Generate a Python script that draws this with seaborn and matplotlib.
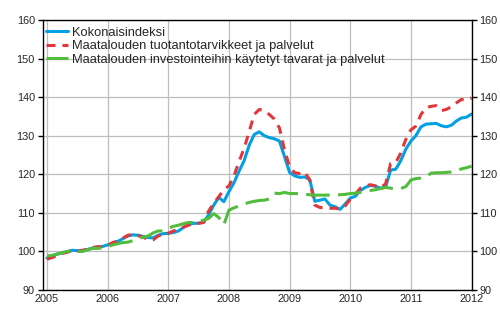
import numpy as np
import pandas as pd
import matplotlib
matplotlib.use("Agg")
import matplotlib.pyplot as plt
import seaborn as sns

# Monthly index series, 2005M01 ... 2012M01 (2005 = 100)
start_year = 2005
year_ticks = [2005, 2006, 2007, 2008, 2009, 2010, 2011, 2012]
y_ticks = [90, 100, 110, 120, 130, 140, 150, 160]

series_names = [
    "Kokonaisindeksi",
    "Maatalouden tuotantotarvikkeet ja palvelut",
    "Maatalouden investointeihin käytetyt tavarat ja palvelut",
]

kokonaisindeksi = [
    98.3, 98.8, 99.3, 99.6, 99.9, 100.3, 100.2, 100.1, 100.5, 100.9, 101.2, 101.3,
    101.7, 102.1, 102.6, 103.3, 104.0, 104.3, 104.2, 103.9, 103.6, 103.5, 104.2, 104.6,
    104.7, 104.9, 105.3, 106.2, 107.0, 107.3, 107.3, 107.6, 109.5, 112.0, 114.0, 112.9,
    115.5, 117.8, 120.8, 123.5, 127.5, 130.3, 131.0, 130.0, 129.5, 129.2, 128.6, 124.6,
    120.5, 119.6, 119.2, 119.3, 118.6, 113.0, 113.3, 113.6, 112.0, 111.6, 110.9, 112.3,
    113.8, 114.3, 115.8, 116.6, 117.1, 116.9, 116.4, 116.7, 121.1, 121.3, 123.5, 126.5,
    128.6, 130.0, 132.3, 133.0, 133.1, 133.2, 132.6, 132.3, 132.7, 133.8, 134.6, 134.8,
    135.6,
]

tuotantotarvikkeet = [
    98.0, 98.4, 99.0, 99.5, 99.8, 100.2, 100.0, 100.3, 100.6, 101.0, 101.2, 101.2,
    101.5, 102.3, 102.7, 103.4, 104.2, 104.4, 104.1, 103.7, 103.1, 103.0, 104.0, 104.5,
    104.7, 105.3, 105.7, 106.3, 106.8, 107.1, 107.3, 107.5, 110.5, 112.5, 114.2, 116.0,
    117.0, 119.6, 123.3, 126.7, 131.0, 135.5, 136.8, 136.5, 135.5, 134.3, 132.0, 126.3,
    122.0, 120.4, 120.2, 120.6, 118.5, 112.0, 111.4, 111.3, 111.2, 111.2, 111.0, 111.8,
    113.5, 114.8, 116.4, 117.0, 117.3, 117.0, 116.5, 117.5, 122.8, 123.0, 125.5, 129.0,
    131.5, 132.5, 135.5, 137.3, 137.6, 137.8, 136.5, 136.8, 137.5, 138.5, 139.4, 139.2,
    139.8,
]

investoinnit = [
    98.8, 99.0, 99.3, 99.7, 100.0, 100.2, 100.0, 100.0, 100.4, 100.8, 100.8, 100.9,
    101.3, 101.7, 102.0, 102.3, 102.4, 102.8, 103.3, 103.7, 104.0, 104.8, 105.3, 105.3,
    106.0, 106.5, 106.8, 107.2, 107.5, 107.5, 107.8, 108.1, 108.6, 109.8, 108.8, 106.9,
    110.7, 111.3, 111.8, 112.3, 112.7, 113.0, 113.2, 113.3, 113.6, 115.1, 115.0, 115.3,
    115.0, 115.0, 115.0, 114.8, 114.7, 114.6, 114.6, 114.6, 114.6, 114.6, 114.7, 114.8,
    115.0, 115.1, 115.3, 115.5, 115.8, 116.0, 116.3, 116.6, 116.4, 116.2, 116.3, 116.8,
    118.5, 118.9, 119.0, 119.3, 120.3, 120.4, 120.4, 120.5, 120.6, 120.8, 121.4, 121.7,
    122.1,
]

colors = ["#00A0E3", "#E2373A", "#52BC3C"]

sns.set_theme(style="white")
plt.rcParams["font.family"] = ["Liberation Sans", "DejaVu Sans"]
plt.rcParams["lines.scale_dashes"] = False

t = start_year + np.arange(len(kokonaisindeksi)) / 12.0
df = pd.DataFrame({
    "t": t,
    series_names[0]: kokonaisindeksi,
    series_names[1]: tuotantotarvikkeet,
    series_names[2]: investoinnit,
})

fig = plt.figure(figsize=(5.0, 3.3), dpi=100)
ax = fig.add_axes([0.085, 0.1212, 0.858, 0.8182])

styles = ["-", (0, (6.5, 5.0)), (0, (17.0, 6.0))]
for name, col, ls in zip(series_names, colors, styles):
    sns.lineplot(data=df, x="t", y=name, ax=ax, color=col, linewidth=2.2,
                 linestyle=ls, label=name)

ax.set_xlim(start_year - 4.5 / 60.6, 2012)
ax.set_ylim(90, 160)
ax.set_xticks(year_ticks)
ax.set_xticklabels([str(y) for y in year_ticks])
ax.set_yticks(y_ticks)
ax.set_xlabel("")
ax.set_ylabel("")

ax.grid(True, color="#BEBEBE", linewidth=0.9)
ax.set_axisbelow(True)
for sp in ax.spines.values():
    sp.set_color("black")
    sp.set_linewidth(1.0)

ax.tick_params(axis="y", which="both", direction="out", length=3.5, width=1.0,
               color="black", left=True, right=True, labelleft=True,
               labelright=True, labelsize=7.8, pad=2)
ax.tick_params(axis="x", length=0, labelsize=7.8, pad=3)

ax.legend(loc="upper left", bbox_to_anchor=(0.0, 0.988), frameon=False,
          fontsize=9.3, handlelength=1.7, handletextpad=0.3,
          labelspacing=0.12, borderaxespad=0.1, borderpad=0.15)

fig.savefig("out.png", dpi=100)
